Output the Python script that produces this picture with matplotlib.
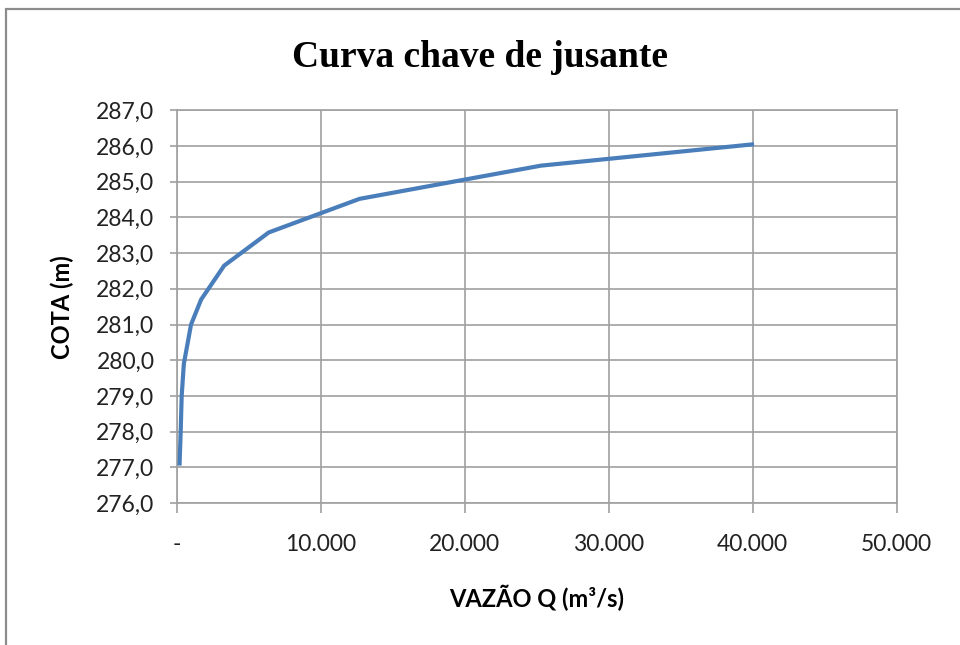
import matplotlib
matplotlib.use("Agg")
import matplotlib.pyplot as plt
import matplotlib.ticker as ticker
from matplotlib.patches import Rectangle

# Curva chave de jusante: vazao (m3/s) x cota (m)
vazao = [200, 280, 350, 500, 1000, 1700, 3300, 6400, 12700, 25300, 40100]
cota = [277.05, 278.0, 279.0, 279.9, 281.0, 281.7, 282.65, 283.58, 284.52, 285.45, 286.05]

x_ticks = [0, 10000, 20000, 30000, 40000, 50000]
y_ticks = [276, 277, 278, 279, 280, 281, 282, 283, 284, 285, 286, 287]

TICK_FONT = "Lato"
GRID_COLOR = "#a0a0a0"
LINE_COLOR = "#4a7ebb"


def fmt_x(v, pos):
    if v == 0:
        return "-"
    return f"{v:,.0f}".replace(",", ".")


def fmt_y(v, pos):
    return f"{v:.1f}".replace(".", ",")


fig = plt.figure(figsize=(9.6, 6.45), dpi=100)
ax = fig.add_axes([0.184, 0.220, 0.750, 0.609])

ax.plot(vazao, cota, color=LINE_COLOR, linewidth=3.0, solid_joinstyle="round",
        solid_capstyle="butt", zorder=3)

ax.set_xlim(0, 50000)
ax.set_ylim(276, 287)
ax.set_xticks(x_ticks)
ax.set_yticks(y_ticks)
ax.xaxis.set_major_formatter(ticker.FuncFormatter(fmt_x))
ax.yaxis.set_major_formatter(ticker.FuncFormatter(fmt_y))

ax.grid(True, color=GRID_COLOR, linewidth=1.2)
ax.set_axisbelow(True)
for side in ["left", "bottom", "right", "top"]:
    ax.spines[side].set_color(GRID_COLOR)
    ax.spines[side].set_linewidth(1.2)

ax.tick_params(axis="both", colors=GRID_COLOR, width=1.2,
               labelcolor="#222222", labelsize=16.5)
ax.tick_params(axis="x", length=7, pad=15)
ax.tick_params(axis="y", length=5, pad=11)
for lab in ax.get_xticklabels() + ax.get_yticklabels():
    lab.set_fontfamily(TICK_FONT)

ax.set_xlabel("VAZÃO Q (m³/s)", fontsize=17, fontweight="bold",
              fontfamily=TICK_FONT, labelpad=22)
ax.set_ylabel("COTA (m)", fontsize=17, fontweight="bold",
              fontfamily=TICK_FONT, labelpad=16)

fig.text(0.5, 0.911, "Curva chave de jusante", ha="center", va="center",
         fontsize=27, fontweight="bold", fontfamily="Liberation Serif")

# outer chart border, only top and left edges are inside the picture
fig.patches.append(Rectangle((0.0065, -0.05), 1.2, 1.036, transform=fig.transFigure,
                             fill=False, edgecolor="#8c8c8c", linewidth=1.6))

fig.savefig("out.png", dpi=100)
